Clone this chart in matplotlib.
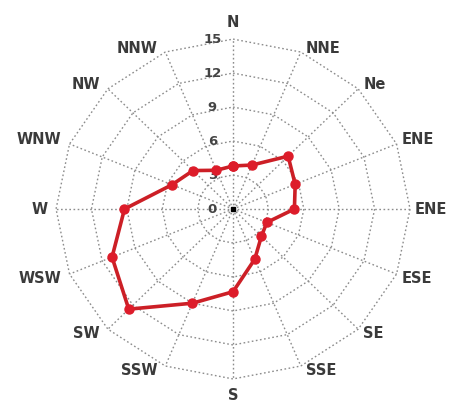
import numpy as np
import matplotlib.pyplot as plt

# wind directions, clockwise from north
directions = ["N", "NNE", "Ne", "ENE", "ENE", "ESE", "SE", "SSE",
              "S", "SSW", "SW", "WSW", "W", "WNW", "NW", "NNW"]
values = [3.8, 4.2, 6.6, 5.7, 5.2, 3.1, 3.4, 4.8,
          7.3, 9.0, 12.5, 11.1, 9.2, 5.6, 4.8, 3.7]
ring_levels = [3, 6, 9, 12, 15]
ring_labels = ["3", "6", "9", "12", "15"]

n = len(directions)
ang = np.pi / 2 - np.arange(n) * 2 * np.pi / n
ux, uy = np.cos(ang), np.sin(ang)
rmax = ring_levels[-1]

fig = plt.figure(figsize=(4.53, 4.05), dpi=100)
ax = fig.add_axes([0, 0, 1, 1])
ax.set_xlim(-19.75, 18.64)
ax.set_ylim(-17.3, 18.45)
ax.axis("off")

grid_kw = dict(color="#8c8c8c", lw=1.0, ls=(0, (1.2, 1.8)), zorder=1)
# polygon rings
for r in ring_levels:
    ax.plot(np.append(ux, ux[0]) * r, np.append(uy, uy[0]) * r, **grid_kw)
# spokes
for x, y in zip(ux, uy):
    ax.plot([0, x * rmax], [0, y * rmax], **grid_kw)

# radial tick labels along the north spoke
tick_kw = dict(ha="center", va="center", fontsize=9.5, fontweight="bold",
               color="#444444")
ax.text(-1.75, 0, "0", **tick_kw)
for r, lab in zip(ring_levels, ring_labels):
    ax.text(-1.75, r, lab, **tick_kw)

# direction labels just outside the spoke ends
for d, x, y in zip(directions, ux, uy):
    if abs(x) < 1e-6:
        off, ha = (0, 17 * np.sign(y)), "center"
    elif x > 0:
        off, ha = (5, 4 * np.sign(y) if abs(y) > 0.1 else 0), "left"
    else:
        off, ha = (-8, 4 * np.sign(y) if abs(y) > 0.1 else 0), "right"
    ax.annotate(d, (x * rmax, y * rmax), xytext=off, textcoords="offset pixels",
                ha=ha, va="center", fontsize=10.5, fontweight="bold",
                color="#3a3a3a")

# data polygon
v = np.array(values)
px = np.append(ux * v, ux[0] * v[0])
py = np.append(uy * v, uy[0] * v[0])
ax.plot(px, py, color="#cc1f26", lw=2.6, marker="o", ms=6.5,
        markerfacecolor="#dd1c2a", markeredgecolor="#dd1c2a", zorder=3)

ax.plot(0, 0, marker="s", ms=3, color="black", zorder=4)

fig.savefig("out.png", dpi=100)
